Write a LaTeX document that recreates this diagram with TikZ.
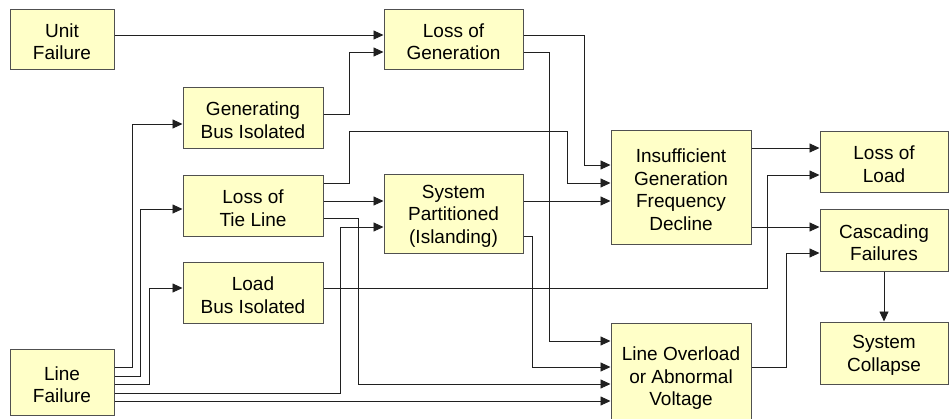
\documentclass[tikz,border=0pt]{standalone}
\usepackage{fontspec}
\setmainfont{Liberation Sans}
\usetikzlibrary{arrows.meta}
\definecolor{boxfill}{HTML}{FFFFC8}
\definecolor{boxline}{HTML}{505050}
\definecolor{wire}{HTML}{202020}
\tikzset{
  blk/.style={draw=boxline, fill=boxfill, line width=1pt, inner sep=0pt},
  blktext/.style={align=center, inner sep=0pt,
    font=\fontsize{19}{22.5}\selectfont},
  conn/.style={draw=wire, line width=0.9pt,
    -{Triangle[length=10pt,width=9pt]}},
}
\newcommand{\blkat}[6]{% name, x, y, width, height, text
  \node[blk, minimum width=#4pt, minimum height=#5pt] (#1) at (#2,#3) {};
  \node[blktext] (#1-t) at ([yshift=-2.5pt]#1.center) {#6};}
\begin{document}
\begin{tikzpicture}[x=1pt, y=-1pt]
\clip (0,0) rectangle (949,418);
\fill[white] (0,0) rectangle (949,418);

% event boxes
\blkat{uf}{62}{39}{104}{60}{Unit\\Failure}
\blkat{gbi}{253}{117.5}{140}{61}{Generating\\Bus Isolated}
\blkat{log}{453.5}{39}{139}{60}{Loss of\\Generation}
\blkat{ltl}{253}{205.5}{140}{61}{Loss of\\Tie Line}
\blkat{lbi}{253}{292.5}{140}{61}{Load\\Bus Isolated}
\blkat{lf}{62}{382}{104}{66}{Line\\Failure}
\blkat{sp}{453.5}{213.5}{139}{79}{System\\Partitioned\\(Islanding)}
\blkat{igf}{681}{187}{140}{114}{Insufficient\\Generation\\Frequency\\Decline}
\blkat{lol}{884}{161.5}{128}{61}{Loss of\\Load}
\blkat{cf}{884}{240}{128}{62}{Cascading\\Failures}
\blkat{sc}{884}{353}{128}{62}{System\\Collapse}
\blkat{lo}{681}{376}{140}{106}{Line Overload\\or Abnormal\\Voltage}

% unit and generating bus to loss of generation
\draw[conn] (uf.east |- 0,35) -- (log.west |- 0,35);
\draw[conn] (gbi.east |- 0,114) -| (349,52) -- (log.west |- 0,52);

% loss of generation outputs
\draw[conn] (log.east |- 0,35) -| (584,165) -- (igf.west |- 0,165);
\draw[conn] (log.east |- 0,52) -| (549,341) -- (lo.west |- 0,341);

% loss of tie line outputs
\draw[conn] (ltl.east |- 0,183) -| (349,131) -| (567,183) -- (igf.west |- 0,183);
\draw[conn] (ltl.east |- 0,201) -- (sp.west |- 0,201);
\draw[conn] (ltl.east |- 0,218) -| (358,384) -- (lo.west |- 0,384);

% system partitioned outputs
\draw[conn] (sp.east |- 0,201) -- (igf.west |- 0,201);
\draw[conn] (sp.east |- 0,236) -| (532,367) -- (lo.west |- 0,367);

% line failure outputs
\draw[conn] (lf.east |- 0,367) -| (132,124) -- (gbi.west |- 0,124);
\draw[conn] (lf.east |- 0,376) -| (140,209) -- (ltl.west |- 0,209);
\draw[conn] (lf.east |- 0,384) -| (149,288) -- (lbi.west |- 0,288);
\draw[conn] (lf.east |- 0,393) -| (340,227) -- (sp.west |- 0,227);
\draw[conn] (lf.east |- 0,401) -- (lo.west |- 0,401);

% load bus isolated to loss of load
\draw[conn] (lbi.east |- 0,288) -| (767,175) -- (lol.west |- 0,175);

% insufficient generation outputs
\draw[conn] (igf.east |- 0,148) -- (lol.west |- 0,148);
\draw[conn] (igf.east |- 0,227) -- (cf.west |- 0,227);

% line overload to cascading failures
\draw[conn] (lo.east |- 0,367) -| (786,253) -- (cf.west |- 0,253);

% cascading failures to system collapse
\draw[conn] (cf.south) -- (sc.north);
\end{tikzpicture}
\end{document}
